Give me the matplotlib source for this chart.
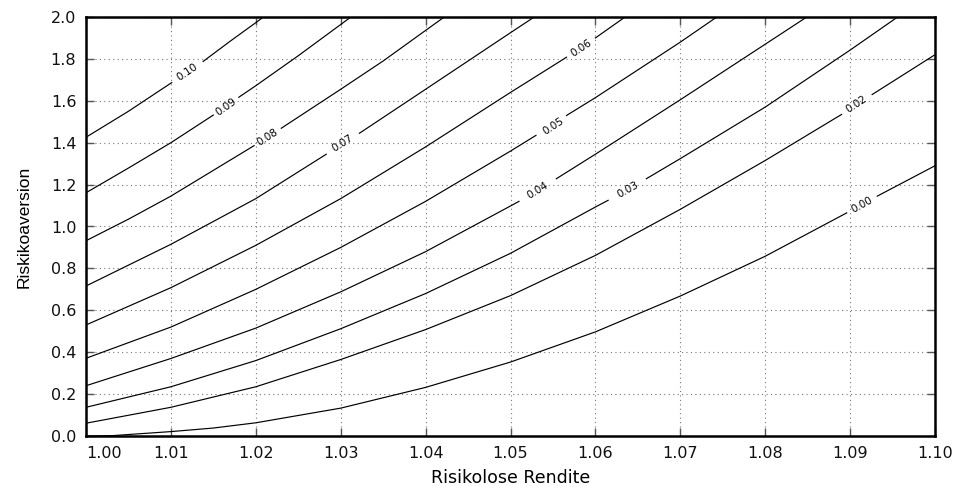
import numpy as np
import matplotlib
matplotlib.use("Agg")
import matplotlib.pyplot as plt

nan = np.nan

# contour levels as printed on the chart (top-left to bottom-right)
levels = ["0.10", "0.09", "0.08", "0.07", "0.06", "0.05", "0.04", "0.03", "0.02", "0.00"]

# contour lines, nan marks the gap where the label sits
c10_x = [1.000, 1.005, 1.0101, nan, 1.0138, 1.017, 1.020, 1.0209]
c10_y = [1.426, 1.550, 1.687, nan, 1.788, 1.885, 1.973, 2.000]

c09_x = [1.000, 1.005, 1.010, 1.0150, nan, 1.0180, 1.020, 1.025, 1.0312]
c09_y = [1.161, 1.279, 1.400, 1.532, nan, 1.617, 1.672, 1.815, 2.000]

c08_x = [1.000, 1.005, 1.010, 1.0198, nan, 1.0230, 1.030, 1.035, 1.040, 1.0422]
c08_y = [0.932, 1.035, 1.145, 1.386, nan, 1.469, 1.655, 1.790, 1.936, 2.000]

c07_x = [1.000, 1.010, 1.020, 1.0283, nan, 1.0322, 1.040, 1.050, 1.0528]
c07_y = [0.716, 0.915, 1.133, 1.345, nan, 1.445, 1.655, 1.925, 2.000]

c06_x = [1.000, 1.010, 1.020, 1.030, 1.040, 1.050, 1.0566, nan, 1.060, 1.0635]
c06_y = [0.530, 0.708, 0.910, 1.133, 1.380, 1.640, 1.808, nan, 1.900, 2.000]

c05_x = [1.000, 1.010, 1.020, 1.030, 1.040, 1.050, 1.0530, nan, 1.0566, 1.060, 1.070, 1.0743]
c05_y = [0.371, 0.520, 0.700, 0.900, 1.120, 1.360, 1.435, nan, 1.530, 1.615, 1.880, 2.000]

c04_x = [1.000, 1.010, 1.020, 1.030, 1.040, 1.050, 1.0510, nan, 1.0554, 1.060, 1.070, 1.080, 1.0849]
c04_y = [0.240, 0.370, 0.515, 0.688, 0.880, 1.098, 1.120, nan, 1.228, 1.345, 1.605, 1.870, 2.000]

c03_x = [1.000, 1.010, 1.020, 1.030, 1.040, 1.050, 1.060, 1.0615, nan, 1.0660, 1.070, 1.080, 1.090, 1.0956]
c03_y = [0.137, 0.235, 0.360, 0.512, 0.680, 0.872, 1.093, 1.125, nan, 1.228, 1.324, 1.570, 1.842, 2.000]

c02_x = [1.000, 1.010, 1.020, 1.030, 1.040, 1.050, 1.060, 1.070, 1.080, 1.0890, nan, 1.0926, 1.100]
c02_y = [0.061, 0.137, 0.235, 0.365, 0.508, 0.670, 0.862, 1.082, 1.315, 1.535, nan, 1.630, 1.820]

c00_x = [1.000, 1.0032, 1.010, 1.015, 1.020, 1.030, 1.040, 1.050, 1.060, 1.070, 1.080, 1.0896, nan, 1.0932, 1.100]
c00_y = [0.000, 0.002, 0.021, 0.038, 0.063, 0.133, 0.232, 0.353, 0.497, 0.668, 0.858, 1.065, nan, 1.145, 1.290]

curves_x = [c10_x, c09_x, c08_x, c07_x, c06_x, c05_x, c04_x, c03_x, c02_x, c00_x]
curves_y = [c10_y, c09_y, c08_y, c07_y, c06_y, c05_y, c04_y, c03_y, c02_y, c00_y]

# where the level labels sit
label_x = [1.0119, 1.0165, 1.0214, 1.0302, 1.0583, 1.0550, 1.0532, 1.0638, 1.0907, 1.0914]
label_y = [1.7375, 1.572, 1.427, 1.395, 1.850, 1.480, 1.173, 1.176, 1.585, 1.105]

xticks = [1.00, 1.01, 1.02, 1.03, 1.04, 1.05, 1.06, 1.07, 1.08, 1.09, 1.10]
yticks = [0.0, 0.2, 0.4, 0.6, 0.8, 1.0, 1.2, 1.4, 1.6, 1.8, 2.0]

W, H = 955, 486
fig = plt.figure(figsize=(W / 100, H / 100), dpi=100)
ax = fig.add_axes([86 / W, 1 - 436 / H, (935 - 86) / W, (436 - 17) / H])

ax.set_xlim(1.0, 1.1)
ax.set_ylim(0.0, 2.0)

for cx, cy in zip(curves_x, curves_y):
    ax.plot(cx, cy, color="black", lw=0.85, zorder=3, solid_joinstyle="round")

# rotate labels along the line, using the points on each side of the gap
for lvl, cx, cy, lx, ly in zip(levels, curves_x, curves_y, label_x, label_y):
    i = int(np.where(np.isnan(cx))[0][0])
    p0 = ax.transData.transform((cx[i - 1], cy[i - 1]))
    p1 = ax.transData.transform((cx[i + 1], cy[i + 1]))
    ang = np.degrees(np.arctan2(p1[1] - p0[1], p1[0] - p0[0]))
    ax.text(lx, ly, lvl, rotation=ang, rotation_mode="anchor",
            ha="center", va="center", fontsize=7.5, family="DejaVu Sans", zorder=4)

ax.set_xticks(xticks)
ax.set_yticks(yticks)
ax.set_xticklabels(["%.2f" % v for v in xticks])
ax.set_yticklabels(["%.1f" % v for v in yticks])
ax.get_xticklabels()[0].set_horizontalalignment("left")

ax.tick_params(direction="in", length=6, width=1, colors="#555555",
               top=True, right=True, labelsize=11.5, pad=7)
for lab in ax.get_xticklabels() + ax.get_yticklabels():
    lab.set_color("#111111")

ax.grid(True, color="#777777", linestyle=(0, (1, 3)), linewidth=0.8)

for sp in ax.spines.values():
    sp.set_linewidth(1.8)
    sp.set_color("black")

ax.set_xlabel("Risikolose Rendite", fontsize=12.5, labelpad=6)
ax.set_ylabel("Riskikoaversion", fontsize=12.5, labelpad=14, family="Liberation Sans")

fig.savefig("out.png", dpi=100)
